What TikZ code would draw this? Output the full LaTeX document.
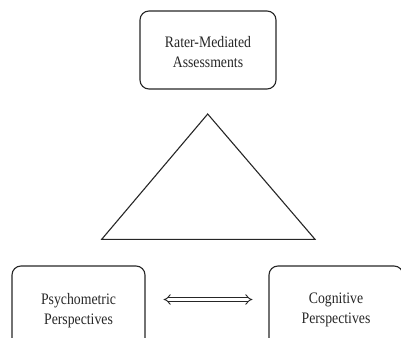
\documentclass[tikz,border=0pt]{standalone}
\usepackage{fontspec}
\setmainfont{Liberation Serif}
\newfontfamily\boxfont[FakeStretch=0.86]{Liberation Serif}
\usetikzlibrary{arrows.meta}
\begin{document}
\begin{tikzpicture}[x=1pt,y=-1pt,
  rbox/.style={draw=black!85, line width=1.1pt, rounded corners=9pt, inner sep=0pt},
  lbl/.style={align=center, font=\boxfont\fontsize{16}{20}\selectfont, text=black!85, inner sep=0pt},
  tri/.style={draw=black!85, line width=1.1pt, line join=miter}]
\useasboundingbox (0,0) rectangle (401,337);
\clip (0,0) rectangle (401,337);
% top box
\node[rbox, minimum width=136pt, minimum height=78pt] (top) at (208,50) {};
\node[lbl] (topt) at (208,52.5) {Rater-Mediated\\Assessments};
% bottom boxes (cut by the picture's lower edge)
\node[rbox, minimum width=133pt, minimum height=100pt] (psy) at (78.5,316) {};
\node[rbox, minimum width=134pt, minimum height=100pt] (cog) at (336,316) {};
\node[lbl] (psyt) at (78.5,311) {Psychometric\\Perspectives};
\node[lbl] (cogt) at (336,310) {Cognitive\\Perspectives};
% triangle
\coordinate (apex) at (207.7,114);
\coordinate (bl) at (101.7,239.3);
\coordinate (br) at (315,239.3);
\draw[tri] (apex) -- (bl) -- (br) -- cycle;
% double arrow between the two lower boxes
\draw[draw=black!85, line width=0.9pt, double=white, double distance=2.8pt,
  shorten <=18pt, shorten >=16pt,
  {Implies[]}-{Implies[]}] ([yshift=16.5pt]psy.east) -- ([yshift=16.5pt]cog.west);
\end{tikzpicture}
\end{document}
